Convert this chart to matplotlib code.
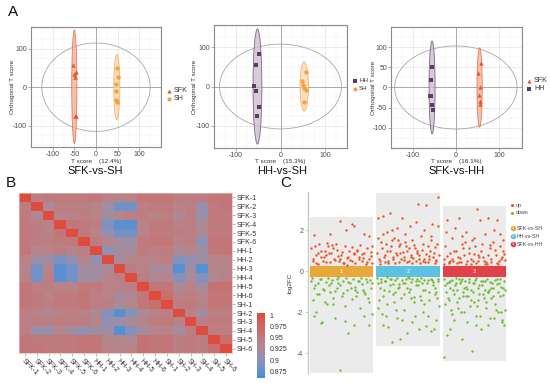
import numpy as np
import matplotlib
matplotlib.use("Agg")
import matplotlib.pyplot as plt
from matplotlib.patches import Ellipse, Rectangle
from matplotlib.colors import LinearSegmentedColormap

plt.rcParams['font.family'] = ['Liberation Sans', 'DejaVu Sans']
plt.rcParams['axes.unicode_minus'] = False

# ---------------- data: panel A (OPLS-DA scores) ----------------
a1_sfk_x = [-52, -51, -47, -48, -49, -47]
a1_sfk_y = [57, 34, 39, 26, -75, -75]
a1_sh_x = [48, 51, 47, 47, 47, 48]
a1_sh_y = [49, 26, 9, -9, -33, -39]

a2_hh_x = [-49, -56, -59, -56, -49, -52]
a2_hh_y = [82, 54, 1, -11, -51, -75]
a2_sh_x = [58, 49, 50, 54, 58, 52]
a2_sh_y = [37, 13, 5, -5, -8, -39]

a3_sfk_x = [58, 52, 56, 54, 56, 56]
a3_sfk_y = [60, 37, 0, -19, -34, -41]
a3_hh_x = [-55, -57, -59, -58, -55, -54]
a3_hh_y = [52, 18, -20, -22, -44, -56]

# confidence ellipses: (x centre, y centre, width, height)
a1_ell = {'SFK': (-50, 1, 12, 294), 'SH': (48, 0, 14, 169), 'T2': (0, 0, 250, 229)}
a2_ell = {'HH': (-52, 0, 20, 292), 'SH': (53.5, 0, 19, 125), 'T2': (0, 0, 275, 215)}
a3_ell = {'SFK': (55, 0, 12, 197), 'HH': (-55, 0, 14, 230), 'T2': (0, 0, 283, 206)}

a_titles = ['SFK-vs-SH', 'HH-vs-SH', 'SFK-vs-HH']
a_xlabels = ['T score    (12.4%)', 'T score    (15.3%)', 'T score    (16.1%)']

# ---------------- data: panel B (correlation matrix) ----------------
samples = ['SFK-1', 'SFK-2', 'SFK-3', 'SFK-4', 'SFK-5', 'SFK-6',
           'HH-1', 'HH-2', 'HH-3', 'HH-4', 'HH-5', 'HH-6',
           'SH-1', 'SH-2', 'SH-3', 'SH-4', 'SH-5', 'SH-6']
corr = [
    [1, .945, .95, .95, .95, .95, .955, .94, .935, .94, .955, .955, .955, .945, .945, .945, .955, .955],
    [.945, 1, .93, .945, .945, .945, .935, .915, .885, .885, .945, .95, .95, .94, .945, .91, .95, .955],
    [.95, .93, 1, .94, .94, .945, .94, .915, .935, .945, .945, .94, .945, .93, .945, .91, .95, .95],
    [.95, .945, .94, 1, .955, .95, .945, .89, .875, .875, .94, .95, .95, .94, .945, .93, .95, .95],
    [.95, .945, .94, .955, 1, .95, .94, .905, .885, .885, .94, .95, .95, .945, .945, .925, .95, .95],
    [.95, .945, .945, .95, .95, 1, .945, .935, .92, .915, .95, .955, .955, .94, .945, .905, .955, .955],
    [.955, .935, .94, .945, .94, .945, 1, .905, .92, .92, .95, .945, .945, .93, .935, .915, .955, .955],
    [.94, .915, .915, .89, .905, .935, .905, 1, .925, .935, .94, .94, .945, .895, .905, .915, .935, .94],
    [.935, .885, .935, .875, .885, .92, .92, .925, 1, .945, .94, .925, .925, .872, .915, .872, .935, .935],
    [.94, .885, .945, .875, .885, .915, .92, .935, .945, 1, .945, .93, .935, .895, .925, .895, .93, .94],
    [.955, .945, .945, .94, .94, .95, .95, .94, .94, .945, 1, .955, .955, .925, .94, .92, .96, .96],
    [.955, .95, .94, .95, .95, .955, .945, .94, .925, .93, .955, 1, .965, .94, .945, .935, .955, .955],
    [.955, .95, .945, .95, .95, .955, .945, .945, .925, .935, .955, .965, 1, .945, .95, .94, .955, .955],
    [.945, .94, .93, .94, .945, .94, .93, .895, .872, .895, .925, .94, .945, 1, .94, .92, .945, .945],
    [.945, .945, .945, .945, .945, .945, .935, .905, .915, .925, .94, .945, .95, .94, 1, .945, .95, .95],
    [.945, .91, .91, .935, .92, .905, .915, .915, .872, .895, .92, .935, .94, .92, .945, 1, .945, .945],
    [.955, .95, .95, .95, .95, .955, .955, .935, .935, .93, .96, .955, .955, .945, .95, .945, 1, .965],
    [.955, .955, .95, .95, .95, .955, .955, .94, .935, .94, .96, .955, .955, .945, .95, .945, .965, 1],
]
cbar_ticks = [1, 0.975, 0.95, 0.925, 0.9, 0.875]

# ---------------- data: panel C (log2FC of differential features) ----------------
# x = relative jitter position inside each group (0..1), y = log2FC
g1_up_x = [0.02, 0.05, 0.08, 0.10, 0.13, 0.15, 0.18, 0.20, 0.23, 0.26, 0.28, 0.31, 0.33, 0.36, 0.38, 0.41, 0.44, 0.46, 0.48,
           0.51, 0.54, 0.56, 0.59, 0.62, 0.64, 0.67, 0.70, 0.72, 0.75, 0.78, 0.80, 0.83, 0.86, 0.88, 0.91, 0.94, 0.97, 0.99,
           0.04, 0.09, 0.12, 0.17, 0.22, 0.25, 0.30, 0.35, 0.40, 0.43, 0.49, 0.53, 0.57, 0.61, 0.66, 0.69, 0.74, 0.77,
           0.82, 0.85, 0.90, 0.93, 0.96, 0.98, 0.06, 0.27, 0.47, 0.58, 0.67, 0.84, 0.32, 0.70]
g1_up_y = [1.1, 0.6, 1.2, 0.4, 0.9, 1.3, 0.7, 0.5, 1.0, 0.8, 1.2, 0.45, 0.9, 1.1, 0.6, 1.3, 0.75, 0.5, 2.45,
           0.95, 0.4, 1.2, 0.65, 1.0, 0.55, 1.15, 0.85, 0.4, 1.05, 0.7, 1.25, 0.5, 0.9, 0.35, 1.1, 0.6, 0.95, 1.2,
           0.5, 0.8, 0.35, 1.0, 0.7, 0.45, 0.9, 1.25, 0.55, 1.05, 0.8, 0.4, 2.0, 0.7, 0.5, 2.2, 1.0, 0.6,
           0.85, 1.8, 0.45, 1.7, 0.75, 0.4, 1.75, 1.35, 0.6, 0.3, 2.3, 0.65, 1.8, 0.9]
g1_dn_x = [0.01, 0.04, 0.07, 0.09, 0.12, 0.14, 0.17, 0.19, 0.22, 0.25, 0.27, 0.30, 0.32, 0.35, 0.37, 0.40, 0.43, 0.45, 0.47,
           0.50, 0.53, 0.55, 0.58, 0.61, 0.63, 0.66, 0.69, 0.71, 0.74, 0.77, 0.79, 0.82, 0.85, 0.87, 0.90, 0.93, 0.96, 0.99,
           0.03, 0.08, 0.11, 0.16, 0.21, 0.24, 0.29, 0.34, 0.39, 0.42, 0.48, 0.52, 0.57, 0.60, 0.65, 0.68, 0.73, 0.76,
           0.81, 0.84, 0.89, 0.92, 0.95, 0.98, 0.06, 0.18, 0.36, 0.44, 0.56, 0.72, 0.86, 0.94]
g1_dn_y = [-0.5, -1.4, -0.8, -2.0, -0.6, -1.1, -0.4, -2.5, -0.9, -0.55, -1.6, -0.7, -1.0, -0.45, -1.3, -2.3, -0.8, -0.6, -4.8,
           -1.2, -0.5, -1.7, -0.9, -3.0, -0.6, -1.35, -2.6, -0.75, -1.0, -0.5, -1.8, -0.65, -2.2, -1.1, -0.55, -1.5, -0.8, -2.1,
           -0.35, -0.7, -1.1, -0.4, -0.85, -1.5, -0.35, -0.6, -0.95, -0.4, -0.7, -1.05, -0.35, -0.55, -0.8, -0.4, -1.2, -0.5,
           -0.35, -0.9, -0.4, -1.3, -0.45, -0.6, -2.2, -2.55, -1.6, -0.3, -2.45, -0.9, -1.0, -2.6]

g2_up_x = [0.01, 0.03, 0.06, 0.08, 0.11, 0.13, 0.16, 0.18, 0.21, 0.23, 0.26, 0.28, 0.31, 0.33, 0.36, 0.38, 0.41, 0.43, 0.46, 0.48,
           0.51, 0.53, 0.56, 0.58, 0.61, 0.63, 0.66, 0.68, 0.71, 0.73, 0.76, 0.78, 0.81, 0.83, 0.86, 0.88, 0.91, 0.93, 0.96, 0.98,
           0.02, 0.05, 0.09, 0.12, 0.15, 0.19, 0.22, 0.25, 0.29, 0.32, 0.35, 0.39, 0.42, 0.45, 0.49,
           0.52, 0.55, 0.59, 0.62, 0.65, 0.69, 0.72, 0.75, 0.79, 0.82, 0.85, 0.89, 0.92, 0.95, 0.99,
           0.04, 0.10, 0.14, 0.17, 0.24, 0.27, 0.34, 0.37, 0.44, 0.47, 0.54, 0.57, 0.64, 0.67, 0.74, 0.77, 0.84, 0.87, 0.94, 0.97]
g2_up_y = [0.9, 2.6, 0.5, 1.4, 2.7, 0.8, 1.9, 0.4, 2.85, 1.2, 0.6, 1.6, 0.9, 2.1, 0.45, 1.3, 2.6, 0.7, 1.8, 1.0,
           0.5, 2.2, 1.5, 0.65, 1.1, 2.4, 3.25, 0.8, 1.7, 0.5, 2.0, 3.2, 1.2, 0.6, 1.5, 2.3, 0.9, 0.4, 1.3, 3.6,
           1.6, 0.35, 1.1, 0.7, 1.3, 0.5, 1.0, 1.5, 0.4, 0.8, 1.2, 0.6, 0.95, 1.4, 0.45,
           1.1, 0.7, 1.25, 0.5, 0.9, 0.4, 1.05, 0.6, 0.85, 0.45, 1.0, 0.7, 1.15, 0.55, 0.8,
           0.6, 1.8, 0.45, 1.0, 2.0, 0.7, 1.5, 0.9, 0.55, 1.2, 0.8, 0.4, 1.0, 0.6, 1.3, 0.45, 0.75, 1.7, 0.5, 2.2]
g2_dn_x = [0.02, 0.04, 0.07, 0.09, 0.12, 0.14, 0.17, 0.19, 0.22, 0.24, 0.27, 0.29, 0.32, 0.34, 0.37, 0.39, 0.42, 0.44, 0.47, 0.49,
           0.52, 0.54, 0.57, 0.59, 0.62, 0.64, 0.67, 0.69, 0.72, 0.74, 0.77, 0.79, 0.82, 0.84, 0.87, 0.89, 0.92, 0.94, 0.97, 0.99,
           0.01, 0.05, 0.10, 0.13, 0.16, 0.20, 0.23, 0.26, 0.30, 0.33, 0.36, 0.40, 0.43, 0.46, 0.50,
           0.53, 0.56, 0.60, 0.63, 0.66, 0.70, 0.73, 0.76, 0.80, 0.83, 0.86, 0.90, 0.93, 0.96, 0.98,
           0.03, 0.08, 0.15, 0.21, 0.28, 0.35, 0.41, 0.48, 0.55, 0.61, 0.68, 0.75, 0.81, 0.88, 0.95, 0.11, 0.31, 0.51, 0.71, 0.91]
g2_dn_y = [-0.6, -1.4, -0.4, -2.1, -0.9, -0.5, -1.6, -2.7, -0.7, -3.45, -1.1, -0.45, -2.3, -0.8, -3.3, -1.3, -0.6, -1.9, -0.4, -3.0,
           -1.0, -0.55, -2.5, -1.5, -0.7, -0.4, -2.8, -1.2, -0.6, -2.0, -0.9, -2.65, -0.45, -1.4, -2.9, -0.7, -1.1, -2.4, -0.5, -1.7,
           -0.35, -0.8, -1.2, -0.5, -0.3, -0.95, -0.4, -0.65, -1.0, -0.35, -0.75, -0.45, -1.1, -0.6, -0.3,
           -0.85, -0.4, -1.25, -0.5, -0.7, -0.35, -0.9, -0.45, -0.6, -1.0, -0.4, -0.55, -0.8, -1.3, -0.4,
           -1.8, -0.55, -2.2, -0.4, -1.5, -0.65, -2.4, -0.8, -1.3, -2.2, -0.5, -1.6, -2.2, -0.45, -1.0, -2.6, -1.9, -0.35, -1.4, -2.8]

g3_up_x = [0.01, 0.04, 0.06, 0.09, 0.11, 0.14, 0.16, 0.19, 0.21, 0.24, 0.26, 0.29, 0.31, 0.34, 0.36, 0.39, 0.41, 0.44, 0.46, 0.49,
           0.51, 0.54, 0.56, 0.59, 0.61, 0.64, 0.66, 0.69, 0.71, 0.74, 0.76, 0.79, 0.81, 0.84, 0.86, 0.89, 0.91, 0.94, 0.96, 0.99,
           0.02, 0.07, 0.12, 0.17, 0.22, 0.27, 0.32, 0.37, 0.42, 0.47, 0.52, 0.57, 0.62, 0.67, 0.72, 0.77, 0.82, 0.87, 0.92, 0.97,
           0.05, 0.15, 0.25, 0.35, 0.45, 0.55, 0.65, 0.75, 0.85, 0.95, 0.10, 0.30, 0.50, 0.70, 0.90]
g3_up_y = [0.6, 1.2, 2.5, 0.4, 0.9, 1.6, 0.5, 2.1, 1.0, 0.7, 2.6, 0.45, 1.3, 0.8, 1.9, 0.5, 1.1, 0.6, 1.5, 0.85,
           1.2, 3.0, 0.5, 2.5, 1.0, 0.7, 1.8, 0.45, 2.6, 1.1, 0.6, 1.4, 2.0, 0.8, 2.5, 0.5, 1.2, 0.7, 1.0, 0.55,
           0.35, 0.75, 0.5, 1.0, 0.4, 0.65, 1.1, 0.35, 0.9, 0.5, 0.4, 0.7, 1.3, 0.35, 0.8, 0.45, 1.05, 0.35, 0.6, 0.85,
           1.9, 0.6, 0.45, 1.4, 0.35, 0.8, 0.5, 1.25, 0.4, 1.5, 0.45, 1.7, 1.6, 0.35, 1.8]
g3_dn_x = [0.01, 0.03, 0.06, 0.08, 0.11, 0.13, 0.16, 0.18, 0.21, 0.23, 0.26, 0.28, 0.31, 0.33, 0.36, 0.38, 0.41, 0.43, 0.46, 0.48,
           0.51, 0.53, 0.56, 0.58, 0.61, 0.63, 0.66, 0.68, 0.71, 0.73, 0.76, 0.78, 0.81, 0.83, 0.86, 0.88, 0.91, 0.93, 0.96, 0.98,
           0.02, 0.05, 0.07, 0.10, 0.12, 0.15, 0.17, 0.20, 0.22, 0.25, 0.27, 0.30, 0.32, 0.35, 0.37, 0.40, 0.42, 0.45, 0.47, 0.50,
           0.52, 0.55, 0.57, 0.60, 0.62, 0.65, 0.67, 0.70, 0.72, 0.75, 0.77, 0.80, 0.82, 0.85, 0.87, 0.90, 0.92, 0.95, 0.97, 0.99,
           0.04, 0.09, 0.14, 0.19, 0.24, 0.29, 0.34, 0.39, 0.44, 0.49, 0.54, 0.59, 0.64, 0.69, 0.74, 0.79, 0.84, 0.89, 0.94, 0.97,
           0.12, 0.32, 0.52, 0.72, 0.92]
g3_dn_y = [-4.2, -0.7, -3.1, -1.3, -0.5, -1.9, -0.9, -2.4, -0.6, -1.5, -0.4, -2.0, -3.3, -0.8, -1.2, -2.5, -0.55, -1.7, -3.9, -1.0,
           -0.45, -2.2, -1.4, -0.7, -2.8, -1.1, -0.5, -1.8, -2.6, -0.9, -1.3, -0.6, -2.3, -1.6, -0.4, -2.0, -1.2, -2.5, -0.8, -1.9,
           -0.4, -1.0, -0.6, -1.4, -0.8, -0.45, -1.1, -0.35, -0.9, -1.3, -0.6, -0.4, -1.0, -0.5, -0.75, -1.2, -0.4, -0.9, -0.6, -1.5,
           -0.35, -0.8, -1.1, -0.5, -0.7, -1.3, -0.9, -0.4, -1.0, -0.55, -0.8, -1.2, -0.45, -0.65, -1.0, -0.4, -0.75, -1.15, -0.5, -0.9,
           -1.6, -0.55, -2.1, -0.7, -1.8, -0.5, -2.0, -0.85, -1.4, -0.6, -1.7, -2.2, -0.5, -1.5, -2.3, -0.8, -1.9, -0.6, -2.4, -2.6,
           -2.8, -1.2, -2.6, -1.0, -2.0]

c_groups = ['SFK-vs-SH', 'HH-vs-SH', 'SFK-vs-HH']

# ---------------- style ----------------
col_sfk, col_sh, col_hh = '#E4572E', '#F5A243', '#5E3A66'
fill_sfk, fill_sh, fill_hh = '#F2AE97', '#FAD8AE', '#CBBCCD'
col_up, col_dn = '#F0521E', '#6CBE2C'
band_cols = ['#E9A93A', '#5CC2E0', '#E2404B']
W, H = 550, 383

fig = plt.figure(figsize=(5.5, 3.83), dpi=100)


def px(x0, y0, x1, y1):
    return [x0 / W, 1 - y1 / H, (x1 - x0) / W, (y1 - y0) / H]


def score_axes(rect, xlim, ylim, xticks, yticks, xlabel, xlab_y, ylab_x):
    ax = fig.add_axes(rect)
    ax.set_xlim(xlim)
    ax.set_ylim(ylim)
    ax.set_xticks(xticks)
    ax.set_yticks(yticks)
    ax.set_xticks(np.arange(-150, 151, 25), minor=True)
    ax.set_yticks(np.arange(-150, 151, 25), minor=True)
    ax.grid(which='major', color='#E3E3E3', lw=0.5)
    ax.grid(which='minor', color='#F1F1F1', lw=0.35)
    ax.set_axisbelow(True)
    ax.axhline(0, color='#A0A0A0', lw=0.6, zorder=1)
    ax.axvline(0, color='#A0A0A0', lw=0.6, zorder=1)
    for s in ax.spines.values():
        s.set_color('#8A8A8A')
        s.set_linewidth(0.8)
    ax.tick_params(which='major', labelsize=5, colors='#8A8A8A', labelcolor='#4D4D4D', length=2, width=0.5, pad=0.8)
    ax.tick_params(which='minor', length=0)
    ax.set_xlabel(xlabel, fontsize=4.6, color='#333333', va='center')
    ax.xaxis.set_label_coords(0.5, xlab_y)
    ax.set_ylabel('Orthogonal T score', fontsize=4.6, color='#333333', va='center')
    ax.yaxis.set_label_coords(ylab_x, 0.5)
    return ax


def add_ell(ax, e, fc, ec, alpha):
    if fc is None:
        ax.add_patch(Ellipse((e[0], e[1]), e[2], e[3], fill=False, ec='#A8A8A8', lw=0.6, zorder=2))
    else:
        ax.add_patch(Ellipse((e[0], e[1]), e[2], e[3], fc=fc, ec=ec, lw=0.6, alpha=alpha, zorder=2))


# ---- A1
ax1 = score_axes(px(31, 27, 161, 147), (-132, 132), (-155, 156), [-100, -50, 0, 50, 100], [-100, 0, 100],
                 a_xlabels[0], -0.125, -0.145)
add_ell(ax1, a1_ell['T2'], None, None, 1)
add_ell(ax1, a1_ell['SFK'], fill_sfk, col_sfk, 0.75)
add_ell(ax1, a1_ell['SH'], fill_sh, col_sh, 0.75)
ax1.scatter(a1_sfk_x, a1_sfk_y, marker='^', s=10, c=col_sfk, zorder=4, lw=0)
ax1.scatter(a1_sh_x, a1_sh_y, marker='o', s=10, c=col_sh, zorder=4, lw=0)

# ---- A2
ax2 = score_axes(px(214, 25, 347, 148), (-146, 146), (-156, 156), [-100, 0, 100], [-100, 0, 100],
                 a_xlabels[1], -0.113, -0.145)
add_ell(ax2, a2_ell['T2'], None, None, 1)
add_ell(ax2, a2_ell['HH'], fill_hh, col_hh, 0.75)
add_ell(ax2, a2_ell['SH'], fill_sh, col_sh, 0.75)
ax2.scatter(a2_hh_x, a2_hh_y, marker='s', s=10, c=col_hh, zorder=4, lw=0)
ax2.scatter(a2_sh_x, a2_sh_y, marker='o', s=10, c=col_sh, zorder=4, lw=0)

# ---- A3
ax3 = score_axes(px(391, 27, 522, 148), (-150, 153), (-124, 123), [-100, 0, 100], [-100, -50, 0, 50, 100],
                 a_xlabels[2], -0.115, -0.135)
add_ell(ax3, a3_ell['T2'], None, None, 1)
add_ell(ax3, a3_ell['HH'], fill_hh, col_hh, 0.75)
add_ell(ax3, a3_ell['SFK'], fill_sfk, col_sfk, 0.75)
ax3.scatter(a3_hh_x, a3_hh_y, marker='s', s=10, c=col_hh, zorder=4, lw=0)
ax3.scatter(a3_sfk_x, a3_sfk_y, marker='^', s=10, c=col_sfk, zorder=4, lw=0)

for xc, t in zip([95, 282, 457], a_titles):
    fig.text(xc / W, 1 - 171.5 / H, t, ha='center', va='center', fontsize=8, color='#111111')

# ---------------- panel B ----------------
cmap = LinearSegmentedColormap.from_list('corr', [
    (0.0, '#3A8EDD'), (0.2, '#7C93C4'), (0.36, '#9B8FA7'), (0.52, '#B5868C'),
    (0.66, '#C47678'), (0.8, '#CD6762'), (1.0, '#E2473A')])
axb = fig.add_axes(px(19, 193, 232, 353))
im = axb.imshow(np.array(corr), cmap=cmap, vmin=0.86, vmax=1.005, aspect='auto', interpolation='nearest')
axb.yaxis.tick_right()
axb.set_yticks(range(len(samples)))
axb.set_yticklabels(samples)
axb.set_xticks(range(len(samples)))
axb.set_xticklabels(samples, rotation=-45, ha='left', va='top', rotation_mode='anchor')
axb.tick_params(labelsize=5, colors='#888888', labelcolor='#333333', length=2, width=0.4, pad=1.5)
for s in axb.spines.values():
    s.set_color('#E8B8B8')
    s.set_linewidth(0.5)

axc_bar = fig.add_axes(px(257, 313, 265, 378))
cb = fig.colorbar(im, cax=axc_bar, ticks=cbar_ticks)
cb.ax.set_yticklabels([str(t) for t in cbar_ticks])
cb.outline.set_visible(False)
cb.ax.tick_params(labelsize=5, length=2, width=0.5, color='white', labelcolor='#333333', pad=1.5)

# ---------------- panel C ----------------
axc = fig.add_axes(px(308, 192, 507, 373))
groups = [(g1_up_x, g1_up_y, g1_dn_x, g1_dn_y), (g2_up_x, g2_up_y, g2_dn_x, g2_dn_y),
          (g3_up_x, g3_up_y, g3_dn_x, g3_dn_y)]
half = 0.475
for i, (ux, uy, dx, dy) in enumerate(groups):
    g = i + 1
    ymax = max(uy) + 0.18
    ymin = min(dy) - 0.18
    axc.add_patch(Rectangle((g - half, ymin), 2 * half, ymax - ymin, fc='#EBEBEB', ec='none', zorder=0))
    axc.scatter(g - half + 2 * half * np.array(ux), uy, s=3, c=col_up, lw=0, zorder=3)
    axc.scatter(g - half + 2 * half * np.array(dx), dy, s=3, c=col_dn, lw=0, zorder=3)
    axc.add_patch(Rectangle((g - half, -0.27), 2 * half, 0.54, fc=band_cols[i], ec='none', zorder=2))
    axc.text(g, 0, str(g), color='white', fontsize=4, ha='center', va='center', zorder=4)
axc.set_xlim(0.495, 3.49)
axc.set_ylim(-4.96, 3.85)
axc.set_yticks([-4, -2, 0, 2])
axc.set_xticks([])
for k in ['top', 'right', 'bottom']:
    axc.spines[k].set_visible(False)
axc.spines['left'].set_color('#C8C8C8')
axc.spines['left'].set_linewidth(1.0)
axc.tick_params(axis='y', labelsize=5, colors='#BBBBBB', labelcolor='#555555', length=2, width=0.5, pad=1.5)
axc.set_ylabel('log2FC', fontsize=4.5, color='#333333', labelpad=3)

# ---------------- legends and panel letters (figure pixel overlay) ----------------
ov = fig.add_axes([0, 0, 1, 1])
ov.set_xlim(0, W)
ov.set_ylim(H, 0)
ov.axis('off')

# A legends
ov.scatter([169], [91], marker='^', s=9, c=col_sfk, lw=0)
ov.scatter([169], [99], marker='o', s=9, c=col_sh, lw=0)
ov.text(174, 91, 'SFK', fontsize=5, va='center', color='#333333')
ov.text(174, 99, 'SH', fontsize=5, va='center', color='#333333')
ov.scatter([355], [81], marker='s', s=9, c=col_hh, lw=0)
ov.scatter([355], [89], marker='o', s=9, c=col_sh, lw=0)
ov.text(359, 81, 'HH', fontsize=4.4, va='center', color='#333333')
ov.text(359, 89, 'SH', fontsize=4.4, va='center', color='#333333')
ov.scatter([529], [81], marker='^', s=9, c=col_sfk, lw=0)
ov.scatter([529], [89], marker='s', s=9, c=col_hh, lw=0)
ov.text(534, 81, 'SFK', fontsize=5, va='center', color='#333333')
ov.text(534, 89, 'HH', fontsize=5, va='center', color='#333333')

# C legends
ov.scatter([512], [205], s=5, c=col_up, lw=0)
ov.scatter([512], [213], s=5, c=col_dn, lw=0)
ov.text(516, 205, 'up', fontsize=3.8, va='center', color='#444444')
ov.text(516, 213, 'down', fontsize=3.8, va='center', color='#444444')
for i, (yy, lab) in enumerate(zip([228, 236, 244], c_groups)):
    ov.scatter([513], [yy], s=16, c=band_cols[i], lw=0)
    ov.text(513, yy, str(i + 1), fontsize=3, color='white', ha='center', va='center')
    ov.text(517, yy, lab, fontsize=3.8, va='center', color='#444444')

ov.text(8, 12, 'A', fontsize=11, va='center', ha='left', color='#111111')
ov.text(6, 183, 'B', fontsize=11, va='center', ha='left', color='#111111')
ov.text(280, 183, 'C', fontsize=11, va='center', ha='left', color='#111111')

fig.savefig('out.png', dpi=100)
